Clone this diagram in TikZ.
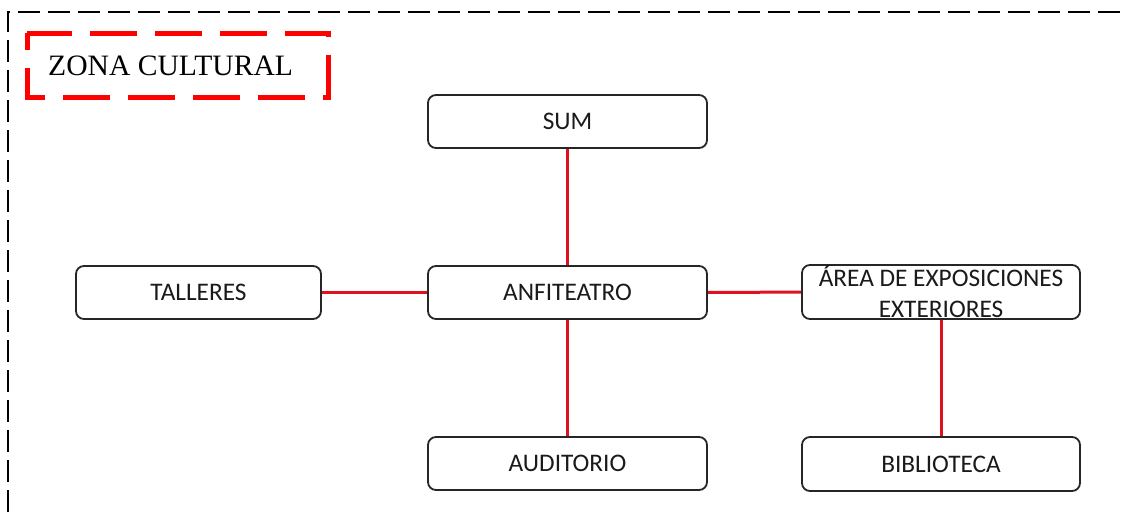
\documentclass[tikz,border=0pt]{standalone}
\usepackage{fontspec}
\setmainfont{Liberation Serif}
\newfontfamily\boxfont{Carlito}
\definecolor{boxline}{HTML}{262626}
\definecolor{boxtext}{HTML}{1A1A1A}
\definecolor{linkred}{HTML}{E0101E}
\begin{document}
\begin{tikzpicture}[x=1pt,y=-1pt,
  roombox/.style={draw=boxline, line width=1.8pt, rounded corners=8pt, fill=white,
    minimum width=279pt, minimum height=53pt, inner sep=0pt, align=center,
    text=boxtext, font=\boxfont\fontsize{25.3}{31}\selectfont},
  link/.style={draw=linkred, line width=3pt}
]
\useasboundingbox (0,0) rectangle (1123,512);
\fill[white] (0,0) rectangle (1123,512);
% outer dashed frame (top and left visible)
\draw[line width=2pt, dash pattern=on 22pt off 8pt] (8,512) -- (8,12) -- (1123,12);
% zona cultural label
\draw[red, line width=5pt, dash pattern=on 47pt off 18pt, dash phase=30pt] (27,33) rectangle (328,97);
\node[anchor=west, font=\fontsize{29.6}{34}\selectfont, inner sep=0pt] (zona) at (48,65.5) {ZONA CULTURAL};
% boxes
\node[roombox] (sum) at (567.5,121.5) {SUM};
\node[roombox] (anf) at (567.5,292.5) {ANFITEATRO};
\node[roombox, minimum width=245pt] (tal) at (198.5,292.5) {TALLERES};
\node[roombox, minimum width=278pt, minimum height=54pt] (area) at (941,292) {ÁREA DE EXPOSICIONES\\EXTERIORES};
\node[roombox] (aud) at (567.5,463.5) {AUDITORIO};
\node[roombox, minimum width=278pt, minimum height=54pt] (bib) at (941,464) {BIBLIOTECA};
% connectors
\draw[link] (sum) -- (anf);
\draw[link] (tal) -- (anf);
\draw[link] (anf) -- (area);
\draw[link] (anf) -- (aud);
\draw[link] (area) -- (bib);
\end{tikzpicture}
\end{document}
